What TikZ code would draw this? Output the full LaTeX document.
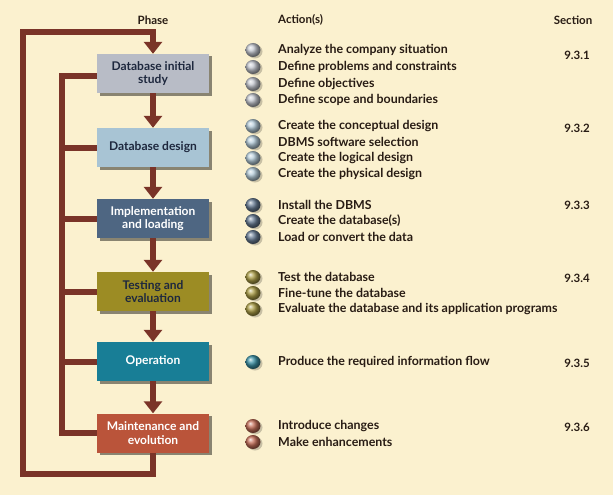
\documentclass[tikz,border=0pt]{standalone}
\usepackage{fontspec}
\setmainfont{Lato}
\usetikzlibrary{arrows.meta,shadows}
\definecolor{bg}{RGB}{251,241,207}
\definecolor{brn}{RGB}{122,52,40}
\definecolor{txt}{RGB}{40,28,20}
\definecolor{navy}{RGB}{30,40,62}
\definecolor{cA}{RGB}{184,188,198}
\definecolor{cB}{RGB}{168,196,212}
\definecolor{cC}{RGB}{78,102,130}
\definecolor{cD}{RGB}{156,140,36}
\definecolor{cE}{RGB}{24,126,150}
\definecolor{cF}{RGB}{186,84,58}
\tikzset{
  phasebox/.style={draw=none, minimum width=112pt, minimum height=39pt, align=center,
    font=\fontsize{12}{13.5}\selectfont\bfseries, inner sep=2pt,
    drop shadow={shadow xshift=2.5pt, shadow yshift=-2.5pt, fill=black, opacity=0.45}},
  flow/.style={draw=brn, line width=6pt, line join=miter},
  flowarr/.style={flow, -{Triangle[width=18pt,length=12pt]}},
  act/.style={anchor=west, text=txt, font=\fontsize{12.4}{14}\selectfont\bfseries, inner sep=0pt},
  sec/.style={anchor=center, text=txt, font=\fontsize{11.5}{13}\selectfont\bfseries, inner sep=0pt},
  hdr/.style={text=txt, font=\fontsize{11.5}{13}\selectfont\bfseries, inner sep=0pt}
}
\begin{document}
\begin{tikzpicture}[x=1pt,y=-1pt]
\fill[bg] (0,0) rectangle (613,495);
\useasboundingbox (0,0) rectangle (613,495);
% headers
\node[hdr] (hph) at (153,20) {Phase};
\node[hdr, anchor=west] (hact) at (278,20) {Action(s)};
\node[hdr] (hsec) at (573,20) {Section};
% phase boxes
\node[phasebox, fill=cA, text=navy] (b1) at (153,73.5) {Database initial\\study};
\node[phasebox, fill=cB, text=navy] (b2) at (153,147.5) {Database design};
\node[phasebox, fill=cC, text=white] (b3) at (153,218.5) {Implementation\\and loading};
\node[phasebox, fill=cD, text=navy] (b4) at (153,291.5) {Testing and\\evaluation};
\node[phasebox, fill=cE, text=white] (b5) at (153,361.5) {Operation};
\node[phasebox, fill=cF, text=white] (b6) at (153,433) {Maintenance and\\evolution};
% arrows between boxes
\draw[flowarr] (b1.south) -- (b2.north);
\draw[flowarr] (b2.south) -- (b3.north);
\draw[flowarr] (b3.south) -- (b4.north);
\draw[flowarr] (b4.south) -- (b5.north);
\draw[flowarr] (b5.south) -- (b6.north);
% outer loop
\coordinate (lb) at (23,474);
\coordinate (lt) at (23,32);
\coordinate (ct) at (153,32);
\draw[flowarr] (b6.south) |- (lb) -- (lt) -- (ct) -- (b1.north);
% inner loop
\coordinate (it) at (62,76);
\coordinate (ib) at (62,433);
\draw[flow] (b1.west |- it) -- (it) -- (ib) -- (b6.west);
\draw[flow] (b2.west) -- (b2.west -| it);
\draw[flow] (b3.west) -- (b3.west -| it);
\draw[flow] (b4.west) -- (b4.west -| it);
\draw[flow] (b5.west) -- (b5.west -| it);
% bullets
\foreach \y/\c in {50/cA,67/cA,84/cA,100/cA,126/cB,142/cB,158/cB,174/cB,205/cC,221/cC,237/cC,277/cD,293/cD,309/cD,362/cE,426/cF,442/cF}{
  \fill[black,opacity=0.2] (255,\y+1.5) ellipse (7.5pt and 7pt);
  \shade[ball color=\c!85!white] (253,\y) ellipse (7.5pt and 7pt);
}
% actions
\node[act] (a1) at (278,50) {Analyze the company situation};
\node[act] (a2) at (278,67) {Define problems and constraints};
\node[act] (a3) at (278,84) {Define objectives};
\node[act] (a4) at (278,100) {Define scope and boundaries};
\node[act] (a5) at (278,126) {Create the conceptual design};
\node[act] (a6) at (278,142) {DBMS software selection};
\node[act] (a7) at (278,158) {Create the logical design};
\node[act] (a8) at (278,174) {Create the physical design};
\node[act] (a9) at (278,205) {Install the DBMS};
\node[act] (a10) at (278,221) {Create the database(s)};
\node[act] (a11) at (278,237) {Load or convert the data};
\node[act] (a12) at (278,277) {Test the database};
\node[act] (a13) at (278,293) {Fine-tune the database};
\node[act] (a14) at (278,309) {Evaluate the database and its application programs};
\node[act] (a15) at (278,362) {Produce the required information flow};
\node[act] (a16) at (278,426) {Introduce changes};
\node[act] (a17) at (278,442) {Make enhancements};
% sections
\node[sec] (s1) at (577,55) {9.3.1};
\node[sec] (s2) at (577,128) {9.3.2};
\node[sec] (s3) at (577,205) {9.3.3};
\node[sec] (s4) at (577,278) {9.3.4};
\node[sec] (s5) at (577,363) {9.3.5};
\node[sec] (s6) at (577,427) {9.3.6};
\end{tikzpicture}
\end{document}
